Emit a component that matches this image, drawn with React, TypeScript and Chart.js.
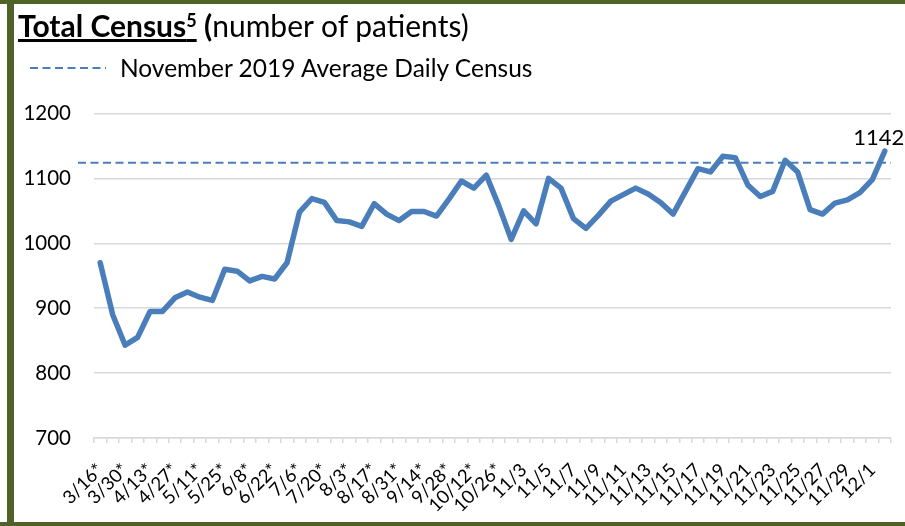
import React, { useEffect, useRef } from "react";
import { Chart, registerables } from "chart.js";

Chart.register(...registerables);

const labels: string[] = [
  "3/16*", "3/23*", "3/30*", "4/6*", "4/13*", "4/20*", "4/27*", "5/4*", "5/11*", "5/18*",
  "5/25*", "6/1*", "6/8*", "6/15*", "6/22*", "6/29*", "7/6*", "7/13*", "7/20*", "7/27*",
  "8/3*", "8/10*", "8/17*", "8/24*", "8/31*", "9/7*", "9/14*", "9/21*", "9/28*", "10/5*",
  "10/12*", "10/19*", "10/26*", "11/2", "11/3", "11/4", "11/5", "11/6", "11/7", "11/8",
  "11/9", "11/10", "11/11", "11/12", "11/13", "11/14", "11/15", "11/16", "11/17", "11/18",
  "11/19", "11/20", "11/21", "11/22", "11/23", "11/24", "11/25", "11/26", "11/27", "11/28",
  "11/29", "11/30", "12/1", "12/2",
];

const census: number[] = [
  970, 890, 843, 855, 895, 895, 916, 925, 917, 912,
  960, 957, 942, 949, 945, 970, 1048, 1069, 1063, 1035,
  1033, 1026, 1061, 1045, 1035, 1049, 1049, 1042, 1068, 1096,
  1085, 1105, 1058, 1006, 1050, 1030, 1100, 1085, 1038, 1023,
  1043, 1065, 1075, 1085, 1076, 1063, 1045, 1080, 1115, 1110,
  1134, 1132, 1090, 1072, 1080, 1128, 1110, 1052, 1045, 1062,
  1067, 1078, 1098, 1142,
];

const novemberAverage = 1124;
const yTicks: number[] = [700, 800, 900, 1000, 1100, 1200];

const LINE_COLOR = "#4A7EBB";
const FRAME = "#4F6228";
const FONT = "Lato, 'Open Sans', sans-serif";

export default function App() {
  const canvasRef = useRef<HTMLCanvasElement | null>(null);

  useEffect(() => {
    document.body.style.margin = "0";
    const canvas = canvasRef.current;
    if (!canvas) return;

    const avgPlugin = {
      id: "avgLine",
      beforeDatasetsDraw(chart: any) {
        const { ctx, chartArea, scales } = chart;
        const y = scales.y.getPixelForValue(novemberAverage);
        ctx.save();
        ctx.strokeStyle = LINE_COLOR;
        ctx.lineWidth = 2;
        ctx.setLineDash([8, 4.5]);
        ctx.beginPath();
        ctx.moveTo(78, y);
        ctx.lineTo(chartArea.right, y);
        ctx.stroke();
        ctx.restore();
      },
    };

    const lastLabelPlugin = {
      id: "lastLabel",
      afterDatasetsDraw(chart: any) {
        const meta = chart.getDatasetMeta(0);
        const pt = meta.data[meta.data.length - 1];
        const { ctx } = chart;
        ctx.save();
        ctx.fillStyle = "#000";
        ctx.font = `22px ${FONT}`;
        ctx.textAlign = "center";
        ctx.textBaseline = "bottom";
        ctx.fillText(String(census[census.length - 1]), pt.x - 6, pt.y - 2);
        ctx.restore();
      },
    };

    const chart = new Chart(canvas, {
      type: "line",
      data: {
        labels,
        datasets: [
          {
            label: "Total Census",
            data: census,
            borderColor: LINE_COLOR,
            borderWidth: 5.5,
            pointRadius: 0,
            tension: 0,
            borderJoinStyle: "round",
            borderCapStyle: "round",
            fill: false,
          },
        ],
      },
      options: {
        animation: false,
        responsive: false,
        maintainAspectRatio: false,
        layout: { padding: { left: 0, right: 14, top: 113.5, bottom: 0 } },
        plugins: {
          legend: { display: false },
          title: { display: false },
          tooltip: { enabled: false },
        },
        scales: {
          x: {
            offset: true,
            grid: {
              offset: true,
              drawOnChartArea: false,
              drawTicks: true,
              tickLength: 5,
              color: "#D9D9D9",
              lineWidth: 1.5,
            },
            border: { display: true, color: "#D9D9D9", width: 1.5 },
            ticks: {
              autoSkip: false,
              minRotation: 45,
              maxRotation: 45,
              padding: 16,
              color: "#000",
              font: { family: FONT, size: 18.5 },
              callback: (_v: any, i: number) => (i % 2 === 0 ? labels[i] : ""),
            },
            afterFit: (scale: any) => {
              scale.height = 88;
              scale.paddingLeft = 0;
              scale.paddingRight = 0;
            },
          },
          y: {
            min: yTicks[0],
            max: yTicks[yTicks.length - 1],
            afterBuildTicks: (scale: any) => {
              scale.ticks = yTicks.map((v) => ({ value: v }));
            },
            grid: { color: "#D9D9D9", lineWidth: 1.5, drawTicks: false },
            border: { display: false },
            ticks: {
              padding: 23,
              color: "#000",
              font: { family: FONT, size: 20.5 },
              callback: (v: any) => String(v),
            },
            afterFit: (scale: any) => {
              scale.width = 94;
            },
          },
        },
      },
      plugins: [avgPlugin, lastLabelPlugin],
    });

    return () => chart.destroy();
  }, []);

  return (
    <div
      style={{
        position: "relative",
        width: 905,
        height: 526,
        background: "#fff",
        overflow: "hidden",
        fontFamily: FONT,
      }}
    >
      <canvas
        ref={canvasRef}
        width={905}
        height={526}
        style={{ position: "absolute", left: 0, top: 0 }}
      />
      <div style={{ position: "absolute", left: 0, top: 0, width: 905, height: 4, background: FRAME }} />
      <div style={{ position: "absolute", left: 7, top: 0, width: 7, height: 526, background: FRAME }} />
      <div style={{ position: "absolute", left: 0, top: 522, width: 905, height: 4, background: FRAME }} />
      <div
        style={{
          position: "absolute",
          left: 18,
          top: 6,
          fontSize: 30,
          lineHeight: "38px",
          color: "#000",
          whiteSpace: "nowrap",
        }}
      >
        <span style={{ fontWeight: 700, textDecoration: "underline" }}>
          Total Census<sup style={{ fontSize: 18, verticalAlign: "10px", lineHeight: 0 }}>5</sup>
        </span>
        <span style={{ fontWeight: 700 }}> (</span>
        <span>number of patients)</span>
      </div>
      <svg style={{ position: "absolute", left: 28, top: 62 }} width={80} height={12}>
        <line x1={2} y1={6} x2={78} y2={6} stroke={LINE_COLOR} strokeWidth={2} strokeDasharray="8 4.5" />
      </svg>
      <div
        style={{
          position: "absolute",
          left: 120,
          top: 52,
          fontSize: 24.5,
          lineHeight: "32px",
          color: "#000",
          whiteSpace: "nowrap",
        }}
      >
        November 2019 Average Daily Census
      </div>
    </div>
  );
}
